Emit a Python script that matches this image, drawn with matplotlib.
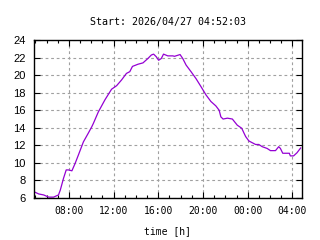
import datetime as dt
import matplotlib
matplotlib.use("Agg")
import matplotlib.pyplot as plt
import matplotlib.dates as mdates

start = dt.datetime(2026, 4, 27, 4, 52, 3)

# hours since start, value
hours = [0.0, 0.43, 0.87, 1.32, 1.76, 2.20, 2.36, 2.65, 2.89, 3.09, 3.40, 3.69,
         3.98, 4.43, 4.87, 5.17, 5.32, 5.76, 6.36, 6.95, 7.40, 7.84, 8.28, 8.58,
         8.82, 9.32, 9.76, 10.20, 10.51, 10.71, 10.95, 11.16, 11.40, 11.60, 11.98,
         12.43, 12.58, 13.08, 13.32, 13.62, 14.06, 14.51, 14.95, 15.40, 15.84,
         16.28, 16.58, 16.73, 16.93, 17.32, 17.76, 18.20, 18.60, 18.80, 18.95,
         19.24, 19.54, 19.84, 20.13, 20.43, 20.87, 21.17, 21.62, 21.91, 22.06,
         22.27, 22.86, 22.95, 23.24, 23.54, 23.75, 23.87]
values = [6.72, 6.46, 6.35, 6.1, 6.1, 6.35, 6.9, 8.25, 9.2, 9.2, 9.1, 9.95,
          10.9, 12.4, 13.4, 14.1, 14.5, 15.8, 17.2, 18.4, 18.8, 19.45, 20.2, 20.4,
          21.0, 21.25, 21.4, 21.9, 22.3, 22.4, 22.1, 21.7, 21.9, 22.4, 22.2,
          22.2, 22.15, 22.35, 21.9, 21.15, 20.4, 19.6, 18.7, 17.75, 17.0,
          16.5, 16.0, 15.25, 15.0, 15.1, 15.0, 14.3, 13.95, 13.4, 13.0,
          12.5, 12.3, 12.1, 12.1, 11.85, 11.65, 11.4, 11.4, 11.85, 11.65,
          11.1, 11.1, 10.8, 10.8, 11.15, 11.5, 11.7]

times = [start + dt.timedelta(hours=h) for h in hours]

fig = plt.figure(figsize=(3.2, 2.4), dpi=100)
ax = fig.add_axes([0.106, 0.175, 0.838, 0.658])

ax.plot(times, values, color="#9400D3", linewidth=0.9)

ax.set_xlim(start, start + dt.timedelta(hours=24))
ax.set_ylim(6, 24)
ax.set_yticks(range(6, 25, 2))

ax.xaxis.set_major_locator(mdates.HourLocator(byhour=range(0, 24, 4)))
ax.xaxis.set_minor_locator(mdates.HourLocator())
ax.xaxis.set_major_formatter(mdates.DateFormatter("%H:%M"))

ax.grid(True, which="major", color="#a0a0a0", linestyle=(0, (2.5, 2.5)), linewidth=0.8)
ax.tick_params(which="both", direction="in", top=True, right=True, width=0.8)
ax.tick_params(which="major", length=4, pad=6)
ax.tick_params(which="minor", length=2)
for s in ax.spines.values():
    s.set_linewidth(1.0)

for lab in ax.get_xticklabels():
    lab.set_family("DejaVu Sans Mono")
    lab.set_fontsize(7)
for lab in ax.get_yticklabels():
    lab.set_family("Liberation Sans")
    lab.set_fontsize(8)

ax.set_xlabel("time [h]", family="DejaVu Sans Mono", fontsize=7, labelpad=7)
ax.set_title("Start: 2026/04/27 04:52:03", family="DejaVu Sans Mono", fontsize=7.2, pad=11)

fig.savefig("out.png", dpi=100)
